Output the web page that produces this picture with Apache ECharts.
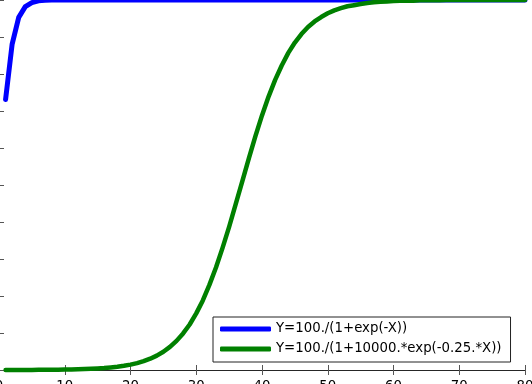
<!DOCTYPE html>
<html>
<head>
<meta charset="utf-8">
<script src="https://cdn.jsdelivr.net/npm/echarts@6/dist/echarts.min.js"></script>
<style>
  html, body { margin: 0; padding: 0; background: #fff; }
  #chart { width: 532px; height: 384px; }
</style>
</head>
<body>
<div id="chart"></div>
<script>
// x positions
const xValues = [
  1, 2, 3, 4, 5, 6, 7, 8, 9, 10,
  11, 12, 13, 14, 15, 16, 17, 18, 19, 20,
  21, 22, 23, 24, 25, 26, 27, 28, 29, 30,
  31, 32, 33, 34, 35, 36, 37, 38, 39, 40,
  41, 42, 43, 44, 45, 46, 47, 48, 49, 50,
  51, 52, 53, 54, 55, 56, 57, 58, 59, 60,
  61, 62, 63, 64, 65, 66, 67, 68, 69, 70,
  71, 72, 73, 74, 75, 76, 77, 78, 79, 80
]

// blue curve values
const blueValues = [
  73.1, 88.1, 95.3, 98.2, 99.3, 99.8, 99.9, 100, 100, 100,
  100, 100, 100, 100, 100, 100, 100, 100, 100, 100,
  100, 100, 100, 100, 100, 100, 100, 100, 100, 100,
  100, 100, 100, 100, 100, 100, 100, 100, 100, 100,
  100, 100, 100, 100, 100, 100, 100, 100, 100, 100,
  100, 100, 100, 100, 100, 100, 100, 100, 100, 100,
  100, 100, 100, 100, 100, 100, 100, 100, 100, 100,
  100, 100, 100, 100, 100, 100, 100, 100, 100, 100
]

// green curve values
const greenValues = [
  0.01, 0.02, 0.02, 0.03, 0.03, 0.04, 0.06, 0.07, 0.09, 0.12,
  0.16, 0.2, 0.26, 0.33, 0.42, 0.54, 0.7, 0.89, 1.14, 1.46,
  1.87, 2.39, 3.05, 3.88, 4.93, 6.24, 7.87, 9.88, 12.3, 15.3,
  18.8, 23.0, 27.7, 33.0, 38.7, 44.8, 51.0, 57.2, 63.2, 68.8,
  73.9, 78.4, 82.3, 85.7, 88.5, 90.8, 92.7, 94.2, 95.4, 96.4,
  97.2, 97.8, 98.3, 98.6, 98.9, 99.2, 99.4, 99.5, 99.6, 99.7,
  99.8, 99.8, 99.8, 99.9, 99.9, 99.9, 99.9, 100, 100, 100,
  100, 100, 100, 100, 100, 100, 100, 100, 100, 100
]

const seriesNames = ["Y=100./(1+exp(-X))", "Y=100./(1+10000.*exp(-0.25.*X))"]

const font = "DejaVu Sans"

const chart = echarts.init(document.getElementById("chart"))

const axisCommon = {
  type: "value",
  axisLine: { show: true, lineStyle: { color: "#262626", width: 1 } },
  axisTick: { show: true, inside: true, length: 5, lineStyle: { color: "#555" } },
  splitLine: { show: false }
}

const option = {
  animation: false,
  backgroundColor: "#fff",
  grid: { left: -1, right: 7, top: 0, bottom: 14, containLabel: false, outerBoundsMode: "none" },
  legend: {
    orient: "vertical",
    left: 213,
    top: 317,
    backgroundColor: "#fff",
    borderColor: "#222",
    borderWidth: 1,
    padding: [4, 9, 5, 7],
    itemGap: 4,
    itemWidth: 51,
    itemHeight: 5,
    icon: "roundRect",
    textStyle: { fontFamily: font, fontSize: 13.3, color: "#000", lineHeight: 16 },
    data: seriesNames
  },
  xAxis: [
    Object.assign({}, axisCommon, {
      position: "bottom", min: 0, max: 80, interval: 10,
      axisLabel: { margin: 10, fontFamily: font, fontSize: 13.3, color: "#000" }
    }),
    Object.assign({}, axisCommon, {
      position: "top", min: 0, max: 80, interval: 10,
      axisLabel: { show: false }
    })
  ],
  yAxis: [
    Object.assign({}, axisCommon, {
      position: "left", min: 0, max: 100, interval: 10,
      axisLabel: { show: false }
    }),
    Object.assign({}, axisCommon, {
      position: "right", min: 0, max: 100, interval: 10,
      axisLabel: { show: false }
    })
  ],
  series: [
    {
      name: seriesNames[0],
      type: "line",
      symbol: "none",
      clip: false,
      color: "#0000ff",
      lineStyle: { width: 5, cap: "round", join: "round" },
      data: xValues.map((x, i) => [x, blueValues[i]])
    },
    {
      name: seriesNames[1],
      type: "line",
      symbol: "none",
      clip: false,
      color: "#008000",
      lineStyle: { width: 4.5, cap: "round", join: "round" },
      data: xValues.map((x, i) => [x, greenValues[i]])
    }
  ]
}

chart.setOption(option)
</script>
</body>
</html>
